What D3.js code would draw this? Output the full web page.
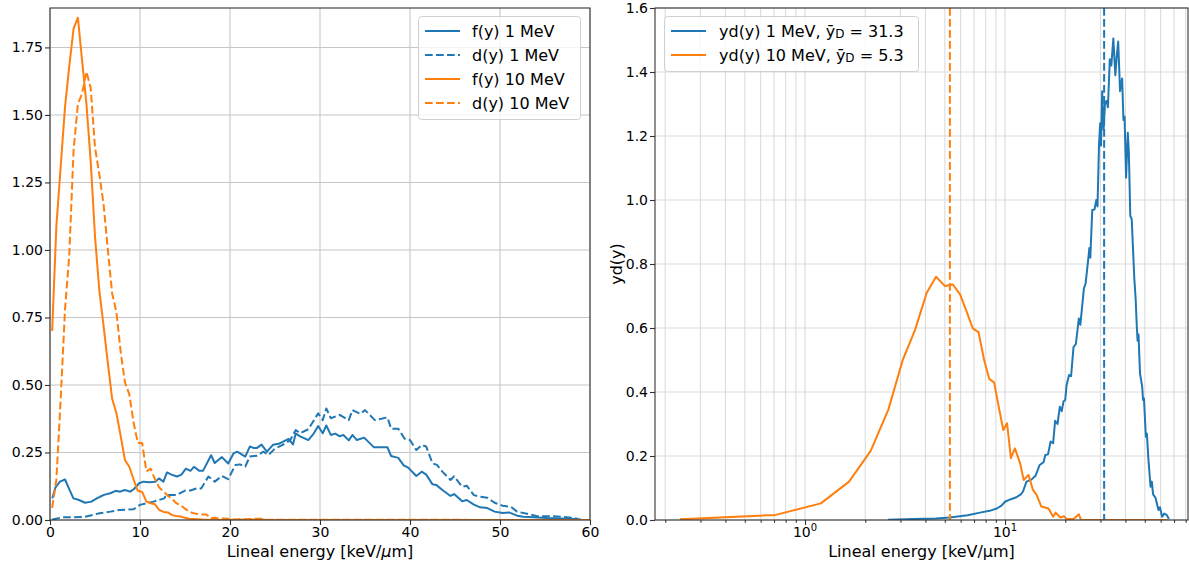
<!DOCTYPE html>
<html>
<head>
<meta charset="utf-8">
<script src="https://cdn.jsdelivr.net/npm/d3@7"></script>
<style>
body{margin:0;background:#fff}
text{font-family:"DejaVu Sans",sans-serif;fill:#000}
</style>
</head>
<body>
<div id="chart"></div>
<script>
// ---- data: [lineal energy y (keV/um), value] ----
var f1MeV = [[0.26,0.080],[0.6,0.12],[1.1,0.142],[1.67,0.15],[2.2,0.11],[2.6,0.08],[3.15,0.075],[3.9,0.064],[4.6,0.068],[5.2,0.080],[5.55,0.086],[6.0,0.093],[6.7,0.099],[7.3,0.108],[7.8,0.105],[8.3,0.111],[8.9,0.105],[9.3,0.114],[9.9,0.136],[10.4,0.142],[11.0,0.14],[11.7,0.142],[12.1,0.154],[12.6,0.142],[13.0,0.176],[13.5,0.168],[14.1,0.161],[14.6,0.168],[15.1,0.19],[15.6,0.182],[16.0,0.197],[16.6,0.182],[17.0,0.182],[17.9,0.240],[18.3,0.211],[19.1,0.233],[19.8,0.209],[20.4,0.247],[20.8,0.253],[21.7,0.235],[22.2,0.272],[22.6,0.267],[23.0,0.267],[23.5,0.279],[24.1,0.253],[24.8,0.279],[25.4,0.282],[25.9,0.29],[26.5,0.30],[27.0,0.28],[27.3,0.32],[27.8,0.31],[28.7,0.296],[29.3,0.32],[29.8,0.348],[30.3,0.321],[30.7,0.35],[31.2,0.315],[31.7,0.32],[32.2,0.31],[32.6,0.315],[33.2,0.295],[33.6,0.315],[34.1,0.296],[34.9,0.305],[36.0,0.269],[37.5,0.269],[37.9,0.237],[38.7,0.23],[39.3,0.202],[39.8,0.194],[40.7,0.163],[41.3,0.179],[41.8,0.168],[42.5,0.132],[42.9,0.130],[43.6,0.111],[44.5,0.089],[44.9,0.096],[45.8,0.069],[46.3,0.074],[47.1,0.057],[47.8,0.047],[48.6,0.044],[49.4,0.031],[50.3,0.026],[51.0,0.028],[51.9,0.016],[52.6,0.012],[53.7,0.010],[55.2,0.007],[58.2,0.004],[59.0,0.002]];

var d1MeV = [[0.26,0.002],[1.4,0.01],[2.3,0.01],[3.9,0.012],[5.5,0.025],[6.7,0.031],[7.7,0.037],[9.3,0.04],[10.0,0.056],[10.7,0.062],[11.5,0.068],[12.1,0.074],[12.7,0.080],[12.9,0.093],[14.1,0.093],[15.0,0.109],[15.6,0.109],[16.3,0.117],[16.8,0.117],[17.6,0.161],[18.3,0.142],[19.1,0.163],[19.8,0.151],[20.6,0.204],[21.1,0.206],[21.7,0.198],[22.2,0.235],[23.0,0.238],[23.7,0.253],[24.3,0.241],[25.0,0.265],[25.8,0.277],[26.7,0.296],[27.3,0.333],[27.8,0.321],[28.7,0.336],[29.8,0.395],[30.3,0.37],[30.7,0.413],[31.2,0.377],[32.2,0.389],[33.2,0.37],[33.6,0.407],[34.5,0.393],[35.0,0.407],[36.1,0.37],[37.5,0.38],[37.9,0.338],[38.7,0.338],[39.4,0.301],[40.0,0.296],[40.7,0.259],[41.3,0.278],[41.8,0.272],[42.5,0.21],[43.0,0.204],[43.6,0.179],[44.5,0.148],[44.9,0.162],[45.8,0.123],[46.3,0.127],[47.1,0.092],[47.8,0.086],[48.6,0.082],[49.4,0.064],[50.3,0.053],[51.2,0.049],[51.9,0.031],[53.0,0.023],[54.1,0.014],[55.9,0.014],[58.1,0.008],[58.7,0.004]];

var f10MeV = [[0.24,0.70],[0.71,1.09],[1.19,1.31],[1.67,1.53],[2.14,1.68],[2.62,1.82],[3.10,1.86],[3.57,1.70],[4.05,1.54],[4.52,1.33],[5.0,1.05],[5.48,0.85],[5.95,0.72],[6.43,0.58],[6.9,0.45],[7.38,0.395],[7.86,0.31],[8.33,0.222],[8.81,0.197],[9.29,0.15],[9.76,0.108],[10.24,0.104],[10.71,0.068],[11.19,0.062],[11.67,0.058],[12.14,0.037],[12.62,0.030],[13.1,0.028],[13.57,0.018],[14.05,0.015],[14.52,0.013],[15.0,0.008],[15.48,0.005],[15.95,0.004],[16.43,0.003],[16.9,0.002],[17.9,0.001],[19.0,0],[23.5,0.002],[24.0,0],[65,0]];

var d10MeV = [[0.24,0.045],[0.71,0.15],[1.19,0.45],[1.67,0.78],[2.14,0.98],[2.62,1.37],[3.10,1.54],[3.57,1.58],[4.05,1.66],[4.52,1.60],[5.0,1.38],[5.48,1.28],[5.95,1.17],[6.43,1.0],[6.9,0.84],[7.38,0.77],[7.86,0.62],[8.33,0.51],[8.81,0.465],[9.29,0.36],[9.76,0.285],[10.24,0.285],[10.71,0.18],[11.19,0.19],[11.67,0.15],[12.14,0.12],[12.62,0.105],[13.1,0.09],[13.57,0.077],[14.05,0.062],[14.52,0.055],[15.0,0.042],[15.48,0.03],[15.95,0.025],[16.43,0.022],[16.9,0.02],[17.38,0.02],[17.86,0.006],[18.33,0.008],[18.81,0.005],[19.29,0.006],[19.76,0.005],[20.5,0.002],[23.5,0.005],[24.0,0.001],[65,0]];

var yd1MeV = [[2.6,0.001],[3.5,0.003],[4.5,0.005],[5.3,0.008],[6.5,0.015],[7.5,0.023],[8.5,0.03],[9.1,0.036],[9.6,0.045],[10.0,0.057],[10.7,0.065],[11.4,0.071],[12.0,0.08],[12.3,0.089],[12.8,0.12],[13.6,0.127],[14.2,0.138],[14.9,0.172],[15.6,0.181],[15.9,0.203],[16.4,0.205],[16.9,0.245],[17.4,0.24],[17.8,0.31],[18.3,0.30],[18.8,0.354],[19.2,0.34],[19.6,0.37],[20.0,0.375],[20.3,0.42],[20.9,0.453],[21.4,0.45],[22.0,0.54],[22.6,0.55],[23.4,0.63],[23.8,0.61],[24.8,0.724],[25.3,0.74],[26.2,0.828],[26.4,0.85],[26.7,0.82],[27.3,0.969],[28.0,0.97],[28.6,1.0],[29.0,0.98],[29.5,1.17],[29.9,1.24],[30.2,1.17],[30.6,1.34],[31.1,1.22],[31.6,1.3],[32.2,1.31],[32.7,1.29],[33.4,1.44],[34.0,1.42],[34.8,1.505],[35.6,1.39],[36.2,1.45],[36.8,1.495],[37.6,1.34],[38.5,1.38],[39.1,1.25],[39.6,1.26],[40.3,1.07],[41.1,1.21],[41.6,1.15],[42.3,0.95],[43.0,0.94],[44.3,0.755],[45.0,0.69],[45.6,0.604],[46.0,0.56],[46.5,0.58],[47.3,0.458],[48.5,0.417],[49.0,0.375],[49.5,0.38],[50.6,0.26],[51.2,0.27],[52.0,0.198],[53.4,0.104],[54.2,0.12],[55.0,0.08],[56.5,0.07],[58.5,0.031],[59.5,0.04],[61.0,0.01],[62.5,0.02],[64.3,0.016],[66.0,0.003]];

var yd10MeV = [[0.237,0.002],[0.714,0.016],[1.2,0.052],[1.66,0.12],[2.13,0.216],[2.61,0.345],[3.08,0.50],[3.55,0.594],[4.06,0.71],[4.52,0.76],[5.01,0.731],[5.48,0.736],[5.96,0.705],[6.43,0.651],[6.9,0.599],[7.37,0.587],[7.86,0.50],[8.35,0.44],[8.82,0.43],[9.3,0.354],[9.8,0.281],[10.24,0.302],[10.7,0.193],[11.2,0.224],[11.9,0.177],[12.4,0.125],[13.1,0.141],[13.8,0.094],[14.4,0.078],[15.2,0.042],[16.5,0.036],[17.4,0.010],[17.9,0.023],[18.9,0.008],[19.7,0.012],[20.3,0.003],[22.0,0.003],[23.4,0.018],[24.0,0],[65,0]];

var meanYD = [31.3, 5.3];   // 1 MeV, 10 MeV

var xTicksLeft = [0,10,20,30,40,50,60];
var yTicksLeft = [0,0.25,0.5,0.75,1.0,1.25,1.5,1.75];
var yTicksRight = [0,0.2,0.4,0.6,0.8,1.0,1.2,1.4,1.6];
var xMajorRight = [1,10];
var xMinorRight = [0.2,0.3,0.4,0.5,0.6,0.7,0.8,0.9,2,3,4,5,6,7,8,9,20,30,40,50,60,70,80];

var legendLeft = ["f(y) 1 MeV","d(y) 1 MeV","f(y) 10 MeV","d(y) 10 MeV"];

var blue = "#1f77b4", orange = "#ff7f0e";
var dash = "7.7,3.3";
var lw = 2;

var svg = d3.select("#chart").append("svg")
    .attr("width", 1189)
    .attr("height", 564);
svg.append("rect").attr("width",1189).attr("height",564).attr("fill","#fff");

// ---------------- left panel ----------------
var xL = d3.scaleLinear().domain([0,60]).range([50,590]);
var yL = d3.scaleLinear().domain([0,1.896]).range([520,8]);

var gL = svg.append("g");
gL.selectAll(".gx").data(xTicksLeft).enter().append("line")
    .attr("x1", d => xL(d)).attr("x2", d => xL(d))
    .attr("y1", 8).attr("y2", 520)
    .attr("stroke","#c6c6c6").attr("stroke-width",1.1);
gL.selectAll(".gy").data(yTicksLeft).enter().append("line")
    .attr("x1", 50).attr("x2", 590)
    .attr("y1", d => yL(d)).attr("y2", d => yL(d))
    .attr("stroke","#c6c6c6").attr("stroke-width",1.1);

svg.append("clipPath").attr("id","clipL").append("rect")
    .attr("x",50).attr("y",8).attr("width",540).attr("height",512);

var lineL = d3.line().x(d => xL(d[0])).y(d => yL(d[1]));
var seriesL = [
    {data:f1MeV, color:blue, dashed:false},
    {data:d1MeV, color:blue, dashed:true},
    {data:f10MeV, color:orange, dashed:false},
    {data:d10MeV, color:orange, dashed:true}
];
gL.append("g").attr("clip-path","url(#clipL)")
  .selectAll("path").data(seriesL).enter().append("path")
    .attr("d", d => lineL(d.data))
    .attr("fill","none")
    .attr("stroke", d => d.color)
    .attr("stroke-width",lw)
    .attr("stroke-linejoin","round")
    .attr("stroke-dasharray", d => d.dashed ? dash : null);

var axL = gL.append("g").attr("transform","translate(0,520)")
    .call(d3.axisBottom(xL).tickValues(xTicksLeft).tickSize(5).tickPadding(2).tickFormat(d3.format("d")));
var ayL = gL.append("g").attr("transform","translate(50,0)")
    .call(d3.axisLeft(yL).tickValues(yTicksLeft).tickSize(5).tickPadding(2).tickFormat(d3.format(".2f")));
[axL, ayL].forEach(function(a){
    a.select(".domain").remove();
    a.selectAll("line").attr("stroke","#333").attr("stroke-width",1.1);
    a.selectAll("text").style("font-size","14px").style("font-family","DejaVu Sans");
});
gL.append("rect").attr("x",50).attr("y",8).attr("width",540).attr("height",512)
    .attr("fill","none").attr("stroke","#333").attr("stroke-width",1.1);

var xlabL = gL.append("text").attr("x",320).attr("y",557)
    .attr("text-anchor","middle").style("font-size","16px");
xlabL.append("tspan").text("Lineal energy [keV/");
xlabL.append("tspan").style("font-style","italic").text("\u03bc");
xlabL.append("tspan").text("m]");

// legend left
var legL = gL.append("g");
legL.append("rect").attr("x",418.5).attr("y",16.5).attr("width",162).attr("height",103).attr("rx",3)
    .attr("fill","#fff").attr("fill-opacity",0.8).attr("stroke","#d0d0d0").attr("stroke-width",1);
legL.selectAll(".li").data(seriesL).enter().append("line")
    .attr("x1",425).attr("x2",460)
    .attr("y1",(d,i) => 31 + i*24).attr("y2",(d,i) => 31 + i*24)
    .attr("stroke", d => d.color).attr("stroke-width",lw)
    .attr("stroke-dasharray", d => d.dashed ? dash : null);
legL.selectAll(".lt").data(legendLeft).enter().append("text")
    .attr("x",472).attr("y",(d,i) => 31 + i*24).attr("dy","0.36em")
    .style("font-size","16px").text(d => d);

// ---------------- right panel ----------------
var xR = d3.scaleLog().domain([0.1778,82.2]).range([655,1188]);
var yR = d3.scaleLinear().domain([0,1.6]).range([520,8]);

var gR = svg.append("g");
gR.selectAll(".gx").data(xMajorRight.concat(xMinorRight)).enter().append("line")
    .attr("x1", d => xR(d)).attr("x2", d => xR(d))
    .attr("y1", 8).attr("y2", 520)
    .attr("stroke","#dcdcdc").attr("stroke-width",1.1);
gR.selectAll(".gy").data(yTicksRight).enter().append("line")
    .attr("x1", 655).attr("x2", 1188)
    .attr("y1", d => yR(d)).attr("y2", d => yR(d))
    .attr("stroke","#dcdcdc").attr("stroke-width",1.1);

svg.append("clipPath").attr("id","clipR").append("rect")
    .attr("x",655).attr("y",8).attr("width",533).attr("height",512);

var lineR = d3.line().x(d => xR(d[0])).y(d => yR(d[1]));
var seriesR = [
    {data:yd1MeV, color:blue, mean:meanYD[0], label:"yd(y) 1 MeV, ", val:" = 31.3"},
    {data:yd10MeV, color:orange, mean:meanYD[1], label:"yd(y) 10 MeV, ", val:" = 5.3"}
];
var plotR = gR.append("g").attr("clip-path","url(#clipR)");
plotR.selectAll("path").data(seriesR).enter().append("path")
    .attr("d", d => lineR(d.data))
    .attr("fill","none").attr("stroke", d => d.color).attr("stroke-width",lw)
    .attr("stroke-linejoin","round");
plotR.selectAll(".mean").data(seriesR).enter().append("line")
    .attr("x1", d => xR(d.mean)).attr("x2", d => xR(d.mean))
    .attr("y1", 8).attr("y2", 520)
    .attr("stroke", d => d.color).attr("stroke-width",lw).attr("stroke-dasharray",dash);

var axR = gR.append("g").attr("transform","translate(0,520)")
    .call(d3.axisBottom(xR).tickValues(xMajorRight).tickSize(5).tickFormat(""));
var axRm = gR.append("g").attr("transform","translate(0,520)")
    .call(d3.axisBottom(xR).tickValues(xMinorRight).tickSize(2.8).tickFormat(""));
var ayR = gR.append("g").attr("transform","translate(655,0)")
    .call(d3.axisLeft(yR).tickValues(yTicksRight).tickSize(5).tickPadding(2).tickFormat(d3.format(".1f")));
[axR, axRm, ayR].forEach(function(a){
    a.select(".domain").remove();
    a.selectAll("line").attr("stroke","#333").attr("stroke-width",1.1);
    a.selectAll("text").style("font-size","14px").style("font-family","DejaVu Sans");
});
// 10^n labels
var expLab = gR.selectAll(".exp").data(xMajorRight).enter().append("text")
    .attr("x", d => xR(d)).attr("y", 537).attr("text-anchor","middle")
    .style("font-size","14px");
expLab.append("tspan").text("10");
expLab.append("tspan").attr("dy",-6).style("font-size","10px").text(d => Math.round(Math.log10(d)));

gR.append("rect").attr("x",655).attr("y",8).attr("width",533).attr("height",512)
    .attr("fill","none").attr("stroke","#333").attr("stroke-width",1.1);

gR.append("text").attr("x",921.5).attr("y",557).attr("text-anchor","middle")
    .style("font-size","16px").text("Lineal energy [keV/\u03bcm]");
gR.append("text").attr("transform","translate(622,264) rotate(-90)")
    .attr("text-anchor","middle").style("font-size","16px").text("yd(y)");

// legend right
var legR = gR.append("g");
legR.append("rect").attr("x",664.5).attr("y",16.5).attr("width",254).attr("height",55).attr("rx",3)
    .attr("fill","#fff").attr("fill-opacity",0.8).attr("stroke","#d0d0d0").attr("stroke-width",1);
legR.selectAll(".li").data(seriesR).enter().append("line")
    .attr("x1",671).attr("x2",706)
    .attr("y1",(d,i) => 31 + i*24).attr("y2",(d,i) => 31 + i*24)
    .attr("stroke", d => d.color).attr("stroke-width",lw);
var lt = legR.selectAll(".lt").data(seriesR).enter().append("text")
    .attr("x",719).attr("y",(d,i) => 37 + i*24)
    .style("font-size","16px");
lt.append("tspan").text(d => d.label + "\u0233");
lt.append("tspan").attr("dy",1).style("font-size","12px").text("D");
lt.append("tspan").attr("dy",-1).text(d => d.val);
</script>
</body>
</html>
